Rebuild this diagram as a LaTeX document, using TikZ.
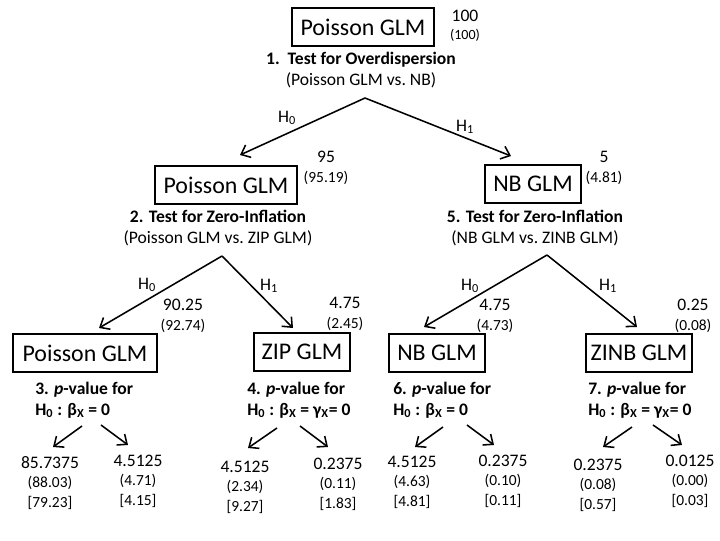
\documentclass[tikz,border=0pt]{standalone}
\usepackage{fontspec}
\setmainfont{Carlito}
\usetikzlibrary{arrows.meta}
\tikzset{
    modelbox/.style={
        rectangle, draw=black, line width=1.4pt, minimum height=0.93cm,
        inner xsep=2pt, font=\fontsize{17}{20}\selectfont
    },
    testtext/.style={align=center, font=\fontsize{12.5}{15.5}\selectfont},
    hyptext/.style={font=\fontsize{12.5}{15}\selectfont},
    counttext/.style={align=center, font=\fontsize{12.5}{14}\selectfont},
    pvaltext/.style={align=left, anchor=west, inner xsep=0pt, font=\bfseries\fontsize{12.5}{14.9}\selectfont},
    leaftext/.style={align=center, font=\fontsize{12.5}{13.8}\selectfont},
    branch/.style={-{Straight Barb[length=2mm, width=3.4mm]}, line width=1.1pt},
}
\newcommand{\pct}[1]{{\fontsize{11}{14}\selectfont #1}}

\begin{document}
\begin{tikzpicture}[x=0.025cm, y=-0.025cm]
    \useasboundingbox (0,0) rectangle (720,540);

    % Level 1
    \node[modelbox, minimum width=3.53cm] (root) at (363,27) {Poisson GLM};
    \node[counttext, font=\fontsize{12.5}{12.7}\selectfont] (rootn) at (465,26) {100\\{\fontsize{10}{12}\selectfont (100)}};
    \node[testtext] (test1) at (361,70) {\textbf{1.\ \ Test for Overdispersion}\\(Poisson GLM vs.\ NB)};
    \coordinate (fork1) at (365,98);
    \coordinate (end1a) at (240,155);
    \coordinate (end1b) at (511,156);
    \draw[branch] (fork1) -- (end1a);
    \draw[branch] (fork1) -- (end1b);
    \node[hyptext] (h1a) at (287,118) {H\textsubscript{0}};
    \node[hyptext] (h1b) at (465,127) {H\textsubscript{1}};

    % Level 2
    \node[modelbox, minimum width=3.53cm] (pois2) at (226,185) {Poisson GLM};
    \node[modelbox, minimum width=2.4cm] (nb2) at (533,184) {NB GLM};
    \node[counttext] (pois2n) at (326,168) {95\\\pct{(95.19)}};
    \node[counttext] (nb2n) at (604,168) {5\\\pct{(4.81)}};
    \node[testtext] (test2) at (218,228) {\textbf{2. Test for Zero-Inflation}\\(Poisson GLM vs.\ ZIP GLM)};
    \node[testtext] (test5) at (535,228) {\textbf{5. Test for Zero-Inflation}\\(NB GLM vs.\ ZINB GLM)};
    \coordinate (fork2) at (222,256);
    \coordinate (end2a) at (99,328);
    \coordinate (end2b) at (293,328);
    \coordinate (fork5) at (547,255);
    \coordinate (end5a) at (424,327);
    \coordinate (end5b) at (637,327);
    \draw[branch] (fork2) -- (end2a);
    \draw[branch] (fork2) -- (end2b);
    \draw[branch] (fork5) -- (end5a);
    \draw[branch] (fork5) -- (end5b);
    \node[hyptext] (h2a) at (147,285) {H\textsubscript{0}};
    \node[hyptext] (h2b) at (269,286) {H\textsubscript{1}};
    \node[hyptext] (h5a) at (470,286) {H\textsubscript{0}};
    \node[hyptext] (h5b) at (608,286) {H\textsubscript{1}};
    \node[counttext] (pois3n) at (183,316) {90.25\\\pct{(92.74)}};
    \node[counttext] (zip3n) at (345,314) {4.75\\\pct{(2.45)}};
    \node[counttext] (nb3n) at (495,316) {4.75\\\pct{(4.73)}};
    \node[counttext] (zinb3n) at (693,316) {0.25\\\pct{(0.08)}};

    % Level 3
    \node[modelbox, minimum width=3.58cm] (pois3) at (85,353) {Poisson GLM};
    \node[modelbox, minimum width=2.4cm] (zip3) at (302,352) {ZIP GLM};
    \node[modelbox, minimum width=2.38cm] (nb3) at (437,353) {NB GLM};
    \node[modelbox, minimum width=2.65cm] (zinb3) at (639,353) {ZINB GLM};
    \node[pvaltext] (pval3) at (35,400) {3. \textit{p}-value for\\H\textsubscript{0} : β\textsubscript{X} = 0};
    \node[pvaltext] (pval4) at (247,400) {4. \textit{p}-value for\\H\textsubscript{0} : β\textsubscript{X} = γ\textsubscript{X}= 0};
    \node[pvaltext] (pval6) at (393,400) {6. \textit{p}-value for\\H\textsubscript{0} : β\textsubscript{X} = 0};
    \node[pvaltext] (pval7) at (588,400) {7. \textit{p}-value for\\H\textsubscript{0} : β\textsubscript{X} = γ\textsubscript{X}= 0};

    % p-value arrows
    \coordinate (s3a) at (82,426);  \coordinate (e3a) at (53,447);
    \coordinate (s3b) at (101,425); \coordinate (e3b) at (128,445);
    \coordinate (s4a) at (277,428); \coordinate (e4a) at (248,448);
    \coordinate (s4b) at (300,426); \coordinate (e4b) at (328,447);
    \coordinate (s6a) at (443,427); \coordinate (e6a) at (415,447);
    \coordinate (s6b) at (467,425); \coordinate (e6b) at (494,445);
    \coordinate (s7a) at (632,427); \coordinate (e7a) at (603,447);
    \coordinate (s7b) at (653,425); \coordinate (e7b) at (682,445);
    \draw[branch] (s3a) -- (e3a);
    \draw[branch] (s3b) -- (e3b);
    \draw[branch] (s4a) -- (e4a);
    \draw[branch] (s4b) -- (e4b);
    \draw[branch] (s6a) -- (e6a);
    \draw[branch] (s6b) -- (e6b);
    \draw[branch] (s7a) -- (e7a);
    \draw[branch] (s7b) -- (e7b);

    % Leaves
    \node[leaftext] (leaf3a) at (50,483) {85.7375\\\pct{(88.03)}\\\pct{[79.23]}};
    \node[leaftext] (leaf3b) at (138,481) {4.5125\\\pct{(4.71)}\\\pct{[4.15]}};
    \node[leaftext] (leaf4a) at (245,487) {4.5125\\\pct{(2.34)}\\\pct{[9.27]}};
    \node[leaftext] (leaf4b) at (338,484) {0.2375\\\pct{(0.11)}\\\pct{[1.83]}};
    \node[leaftext] (leaf6a) at (412,482) {4.5125\\\pct{(4.63)}\\\pct{[4.81]}};
    \node[leaftext] (leaf6b) at (503,481) {0.2375\\\pct{(0.10)}\\\pct{[0.11]}};
    \node[leaftext] (leaf7a) at (598,485) {0.2375\\\pct{(0.08)}\\\pct{[0.57]}};
    \node[leaftext] (leaf7b) at (690,481) {0.0125\\\pct{(0.00)}\\\pct{[0.03]}};
\end{tikzpicture}
\end{document}
